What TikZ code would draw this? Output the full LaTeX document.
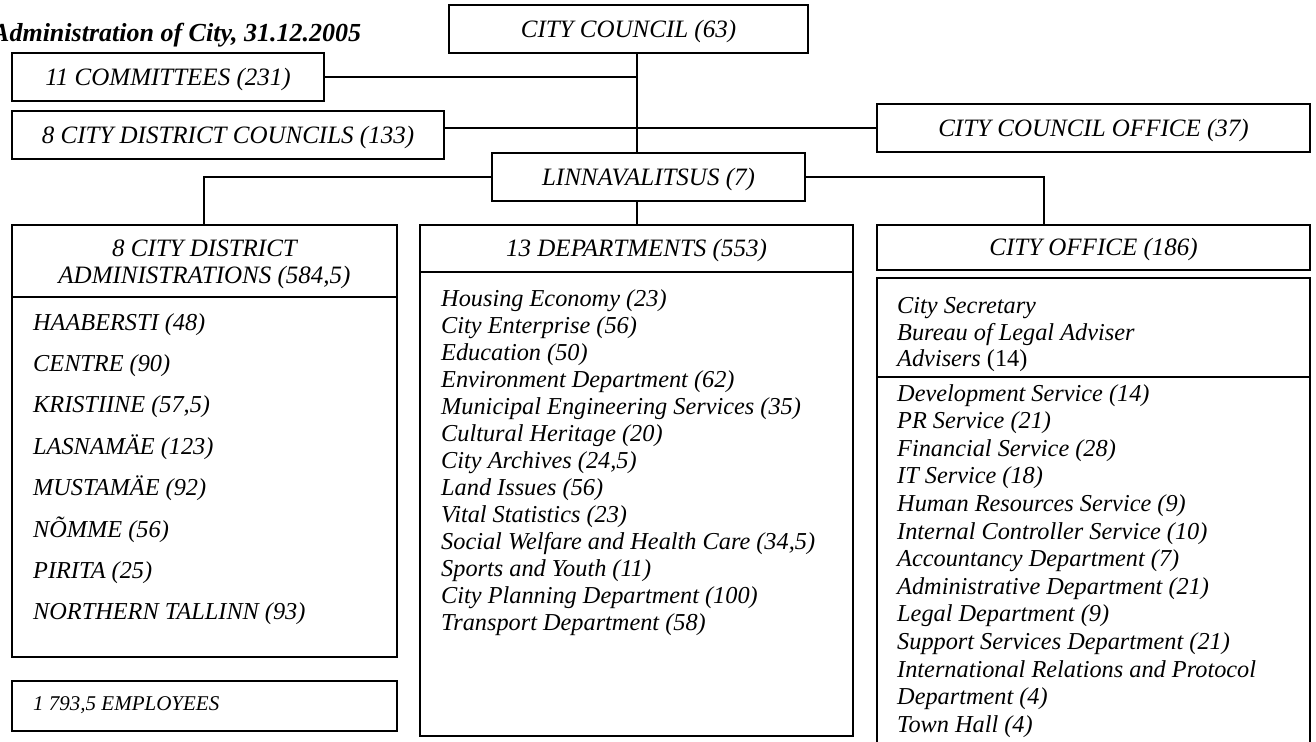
\documentclass[tikz,border=0pt]{standalone}
\usepackage{fontspec}
\setmainfont{Liberation Serif}
\begin{document}
\begin{tikzpicture}[x=1pt,y=-1pt,
  box/.style={draw,line width=2pt,inner sep=0pt,text height=16.5pt,text depth=0pt,font=\fontsize{25}{27}\selectfont\itshape},
  frame/.style={draw,line width=2pt,inner sep=0pt},
  headtext/.style={inner sep=0pt,align=center,font=\fontsize{25}{27}\selectfont\itshape},
  link/.style={line width=2pt},
  item/.style={anchor=base west,inner sep=0pt,font=\fontsize{24.3}{26}\selectfont\itshape},
  small/.style={anchor=base west,inner sep=0pt,font=\fontsize{21}{24}\selectfont\itshape},
  titlefont/.style={anchor=base west,inner sep=0pt,font=\fontsize{26}{28}\selectfont\bfseries\itshape}]
\clip (0,0) rectangle (1316,741);
\fill[white] (0,0) rectangle (1316,741);
% title
\node[titlefont] (title) at (-8,42) {Administration of City, 31.12.2005};
% top boxes
\node[box,minimum width=359,minimum height=48] (council) at (628.5,29) {CITY COUNCIL (63)};
\node[box,minimum width=312,minimum height=48] (comm) at (168,77) {11 COMMITTEES (231)};
\node[box,minimum width=432,minimum height=48] (cdc) at (228,135) {8 CITY DISTRICT COUNCILS (133)};
\node[box,minimum width=433,minimum height=48] (cco) at (1093.5,128) {CITY COUNCIL OFFICE (37)};
\node[box,minimum width=313,minimum height=48] (linna) at (648.5,177) {LINNAVALITSUS (7)};
\coordinate (spine) at (637,0);
\coordinate (lft) at (204,0);
\coordinate (rgt) at (1044,0);
% district administrations
\node[frame,minimum width=385,minimum height=72] (dahead) at (204.5,261) {};
\node[headtext] (dahtext) at (204.5,264.5) {8 CITY DISTRICT\\ADMINISTRATIONS (584,5)};
\node[frame,minimum width=385,minimum height=360] (dabody) at (204.5,477) {};
\foreach \t [count=\i] in {HAABERSTI (48),CENTRE (90),{KRISTIINE (57,5)},LASNAMÄE (123),MUSTAMÄE (92),NÕMME (56),PIRITA (25),NORTHERN TALLINN (93)}
  \node[item] (da\i) at (33,{330+(\i-1)*41.4}) {\t};
\node[frame,minimum width=385,minimum height=50] (empbox) at (204.5,706) {};
\node[small] (emp) at (33,710) {1 793,5 EMPLOYEES};
% departments
\node[box,minimum width=433,minimum height=47] (dephead) at (636.5,248.5) {13 DEPARTMENTS (553)};
\node[frame,minimum width=433,minimum height=464] (depbody) at (636.5,504) {};
\foreach \t [count=\i] in {Housing Economy (23),City Enterprise (56),Education (50),Environment Department (62),Municipal Engineering Services (35),Cultural Heritage (20),{City Archives (24,5)},Land Issues (56),Vital Statistics (23),{Social Welfare and Health Care (34,5)},Sports and Youth (11),City Planning Department (100),Transport Department (58)}
  \node[item] (dep\i) at (441,{306+(\i-1)*27}) {\t};
% city office
\node[box,minimum width=433,minimum height=45] (cohead) at (1093.5,247.5) {CITY OFFICE (186)};
\node[frame,minimum width=433,minimum height=99] (coup) at (1093.5,327.5) {};
\node[item] (cu1) at (897,313) {City Secretary};
\node[item] (cu2) at (897,340) {Bureau of Legal Adviser};
\node[item] (cu3) at (897,366) {Advisers \upshape(14)};
\node[frame,minimum width=433,minimum height=403] (colow) at (1093.5,578.5) {};
\foreach \t [count=\i] in {Development Service (14),PR Service (21),Financial Service (28),IT Service (18),Human Resources Service (9),Internal Controller Service (10),Accountancy Department (7),Administrative Department (21),Legal Department (9),Support Services Department (21),International Relations and Protocol,Department (4),Town Hall (4)}
  \node[item] (co\i) at (897,{401+(\i-1)*27.6}) {\t};
% connectors
\draw[link] (council.south -| spine) -- (linna.north -| spine);
\draw[link] (comm.east) -- (comm.east -| spine);
\draw[link] (cco.west) -- (cco.west -| cdc.east);
\draw[link] (linna.west) -| (dahead.north -| lft);
\draw[link] (linna.east) -| (cohead.north -| rgt);
\draw[link] (linna.south -| spine) -- (dephead.north -| spine);
\end{tikzpicture}
\end{document}
